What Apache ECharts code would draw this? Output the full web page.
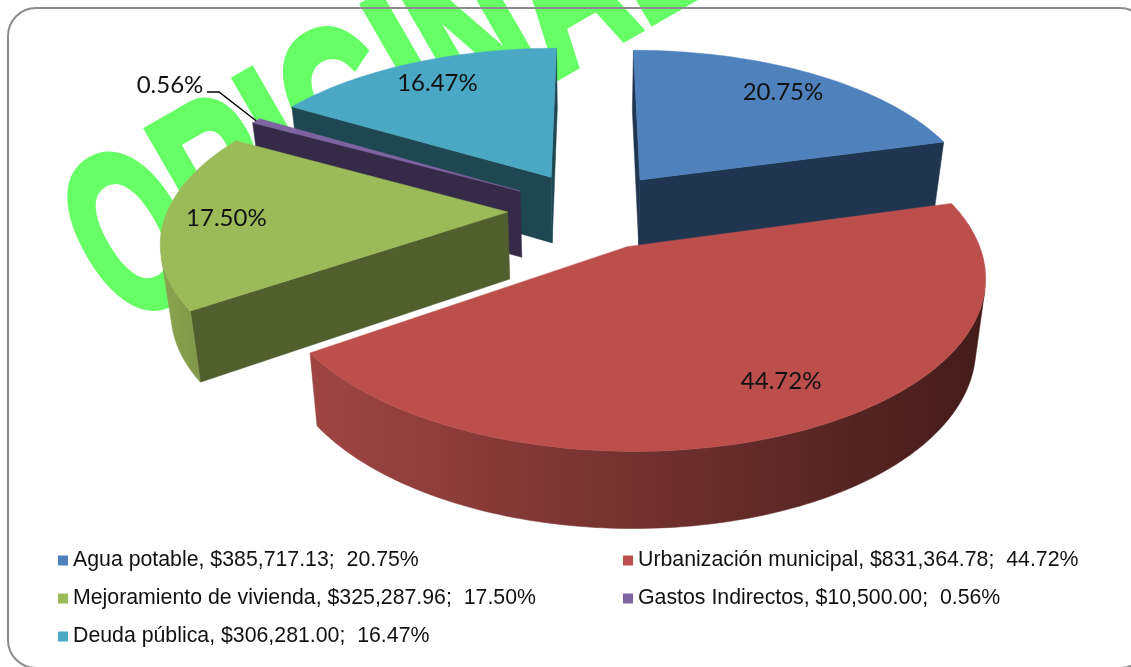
<!DOCTYPE html>
<html><head><meta charset="utf-8">
<style>html,body{margin:0;padding:0;background:#fff}#c{width:1131px;height:667px}</style>
<script src="https://cdn.jsdelivr.net/npm/echarts@6/dist/echarts.min.js"></script>
</head><body><div id="c"></div>
<script>
const categories = ['Agua potable','Urbanización municipal','Mejoramiento de vivienda','Gastos Indirectos','Deuda pública'];
const amounts = [385717.13, 831364.78, 325287.96, 10500.00, 306281.00];
const percents = [20.75, 44.72, 17.50, 0.56, 16.47];
const colors = ['#4f81bd','#bc4f4c','#9bbb59','#8064a2','#4aa8c4'];
const wallColors = ['#1f3550','#5a2523','#505f2d','#352a47','#1f4752'];
const rimStops = [['#1f3550','#1f3550'],['#9f4542','#431c1a'],['#8aa44f','#7f9848'],['#352a47','#352a47'],['#2f7d92','#2f7d92']];
const drawOrder = [4,5,3,2,1];   // z per category: back to front

const total = amounts.reduce((a,b)=>a+b,0);
const labels = categories.map((c,i)=>c+', $'+amounts[i].toLocaleString('en-US',{minimumFractionDigits:2,maximumFractionDigits:2})+';  '+percents[i].toFixed(2)+'%');

// Perspective camera for the tilted pie
const CX=591, CY=210, R=335, EXPLODE=82, D=2106, WIDE=1.015, TILT=0.475, DEPTH=67, SHRINK=0.975;
function project(X,Y,bottom){
  const s=1/(1-Y/D), k=bottom?SHRINK:1;
  return [CX+WIDE*X*s*k, CY+TILT*Y*s*k+(bottom?DEPTH*s:0)];
}
function sliceAngles(i){
  let a=0; for(let j=0;j<i;j++)a+=amounts[j]/total*2*Math.PI;
  return [a,a+amounts[i]/total*2*Math.PI];
}
function point(i,theta,r,bottom){
  const [a,b]=sliceAngles(i), m=(a+b)/2;
  const X=EXPLODE*Math.sin(m)+r*Math.sin(theta), Y=-EXPLODE*Math.cos(m)-r*Math.cos(theta);
  return project(X,Y,bottom);
}
function area(p){let s=0;for(let i=0;i<p.length;i++){const q=p[(i+1)%p.length];s+=p[i][0]*q[1]-q[0]*p[i][1];}return s/2;}
// label placement inside each slice: share of the radius and angular shift (deg) from the bisector
const labelRadius=[0.81,0.79,0.82,1.18,0.80];
const labelShift=[0,-3.5,0,0,0];
function renderSlice(i){
  return function(params,api){
    const [a,b]=sliceAngles(i), m=(a+b)/2, n=Math.max(2,Math.ceil((b-a)/0.02));
    const th=[];for(let k=0;k<=n;k++)th.push(a+(b-a)*k/n);
    const top=th.map(t=>point(i,t,R,false)), bot=th.map(t=>point(i,t,R,true));
    const ap=point(i,0,0,false), apb=point(i,0,0,true);
    const ch=[], wall={fill:wallColors[i],stroke:wallColors[i],lineWidth:0.5};
    const add=(pts,style)=>ch.push({type:'polygon',shape:{points:pts},style});
    const sw=[top[0],ap,apb,bot[0]], ew=[ap,top[n],bot[n],apb];
    if(area(sw)>0)add(sw,wall);
    if(area(ew)>0)add(ew,wall);
    let run=[];const flush=()=>{ if(run.length>1){
        const t=run.map(k=>top[k]), u=run.map(k=>bot[k]).reverse();
        const xs=t.concat(u).map(p=>p[0]), x0=Math.min(...xs), x1=Math.max(...xs);
        const g=new echarts.graphic.LinearGradient(x0,0,x1,0,[{offset:0,color:rimStops[i][0]},{offset:1,color:rimStops[i][1]}],true);
        add(t.concat(u),{fill:g,stroke:g,lineWidth:0.5});
      } run=[]; };
    for(let k=0;k<n;k++){
      const q=[top[k+1],top[k],bot[k],bot[k+1]];
      if(area(q)>0){ if(!run.length)run.push(k); run.push(k+1);} else flush();
    }
    flush();
    add([ap].concat(top),{fill:colors[i],stroke:colors[i],lineWidth:0.5});
    const lp=point(i,m+labelShift[i]*Math.PI/180,R*labelRadius[i],false);
    if(i===3){
      const e=point(i,m,R,false);
      ch.push({type:'polyline',shape:{points:[[207,92],[219,92],[e[0],e[1]]]},style:{fill:null,stroke:'#000',lineWidth:1.4}});
      lp[0]=170;lp[1]=85;
    }
    ch.push({type:'text',style:{text:percents[i].toFixed(2)+'%',x:lp[0],y:lp[1],align:'center',verticalAlign:'middle',font:'24px Lato',fill:'#111'}});
    return {type:'group',children:ch};
  };
}
const series=categories.map((c,i)=>({type:'custom',name:labels[i],coordinateSystem:'none',z:drawOrder[i],silent:true,animation:false,
  itemStyle:{color:colors[i]},data:[amounts[i]],renderItem:renderSlice(i)}));
const legendBase={orient:'vertical',top:550,padding:0,itemWidth:10,itemHeight:10,icon:'rect',itemGap:17,selectedMode:false,
  textStyle:{fontFamily:'Liberation Sans',fontSize:21.3,color:'#111'}};
const chart=echarts.init(document.getElementById('c'),null,{renderer:'canvas'});
chart.setOption({
  animation:false,backgroundColor:'#fff',
  legend:[Object.assign({},legendBase,{left:58,data:[labels[0],labels[2],labels[4]]}),
          Object.assign({},legendBase,{left:623,data:[labels[1],labels[3]]})],
  graphic:[
    {type:'text',z:-10,x:92,y:272,rotation:Math.PI/6,scaleX:0.61,originX:0,originY:0,
     style:{text:'ORIGINAL',font:'bold 230px "Liberation Sans"',fill:'#66ff66',stroke:'#66ff66',lineWidth:8,verticalAlign:'middle'}},
    {type:'rect',z:-5,shape:{x:8,y:8,width:1140,height:660,r:28},style:{fill:'none',stroke:'#8c8c8c',lineWidth:2}}
  ],
  series
});
</script></body></html>
